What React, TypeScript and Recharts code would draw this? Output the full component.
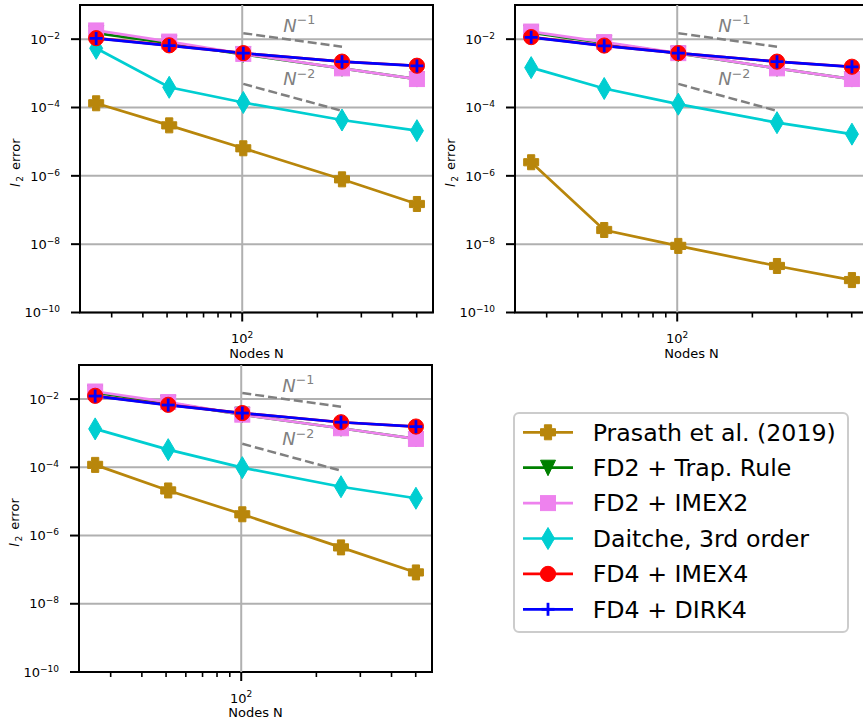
import React from 'react';
import {
  LineChart,
  Line,
  XAxis,
  YAxis,
  CartesianGrid,
  ReferenceLine,
  ReferenceArea,
  ReferenceDot,
} from 'recharts';

const FONT = "'DejaVu Sans', 'Liberation Sans', sans-serif";

// grid sizes used in every run
const nodes = [26, 51, 101, 251, 501];

// slope guides (N^-1 and N^-2)
const refNodes = [101, 251];
const slopeOne = [1.5e-2, 6.0e-3];
const slopeTwo = [4.9e-4, 8.0e-5];

// top left panel
const prasathA = [1.33e-4, 3.0e-5, 6.4e-6, 7.9e-7, 1.5e-7];
const trapA = [1.5e-2, 7.6e-3, 3.6e-3, 1.4e-3, 6.8e-4];
const imex2A = [1.8e-2, 8.5e-3, 3.7e-3, 1.4e-3, 6.8e-4];
const daitcheA = [5.4e-3, 3.9e-4, 1.4e-4, 4.3e-5, 2.1e-5];
const imex4A = [1.07e-2, 6.6e-3, 3.9e-3, 2.2e-3, 1.67e-3];
const dirk4A = [1.05e-2, 6.5e-3, 3.9e-3, 2.2e-3, 1.65e-3];

// top right panel
const prasathB = [2.5e-6, 2.6e-8, 8.9e-9, 2.3e-9, 8.9e-10];
const trapB = [1.55e-2, 7.8e-3, 3.8e-3, 1.4e-3, 6.8e-4];
const imex2B = [1.67e-2, 8.2e-3, 3.9e-3, 1.4e-3, 6.8e-4];
const daitcheB = [1.47e-3, 3.6e-4, 1.25e-4, 3.6e-5, 1.66e-5];
const imex4B = [1.15e-2, 6.5e-3, 3.9e-3, 2.2e-3, 1.56e-3];
const dirk4B = [1.13e-2, 6.4e-3, 3.9e-3, 2.2e-3, 1.55e-3];

// bottom left panel
const prasathC = [1.18e-4, 2.1e-5, 4.2e-6, 4.5e-7, 8.3e-8];
const trapC = [1.55e-2, 7.8e-3, 3.5e-3, 1.4e-3, 6.8e-4];
const imex2C = [1.67e-2, 8.2e-3, 3.5e-3, 1.4e-3, 6.8e-4];
const daitcheC = [1.34e-3, 3.3e-4, 9.8e-5, 2.7e-5, 1.24e-5];
const imex4C = [1.25e-2, 6.8e-3, 3.9e-3, 2.1e-3, 1.57e-3];
const dirk4C = [1.23e-2, 6.7e-3, 3.9e-3, 2.1e-3, 1.56e-3];

const xTicks = [30, 40, 50, 60, 70, 80, 90, 100, 200, 300, 400, 500];
const yTicks = [1e-10, 1e-8, 1e-6, 1e-4, 1e-2];
const xDomain = [22.4, 581];
const yDomain = [1e-10, 1e-1];

const series = [
  { key: 'prasath', name: 'Prasath et al. (2019)', color: '#b8860b', marker: 'plusFilled' },
  { key: 'trap', name: 'FD2 + Trap. Rule', color: '#008000', marker: 'triangleDown' },
  { key: 'imex2', name: 'FD2 + IMEX2', color: '#ee82ee', marker: 'square' },
  { key: 'daitche', name: 'Daitche, 3rd order', color: '#00ced1', marker: 'diamond' },
  { key: 'imex4', name: 'FD4 + IMEX4', color: '#ff0000', marker: 'circle' },
  { key: 'dirk4', name: 'FD4 + DIRK4', color: '#0000ff', marker: 'plus' },
];

function buildRows(cols: Record<string, number[]>) {
  return nodes.map((n, i) => {
    const row: Record<string, number | null> = { n };
    Object.keys(cols).forEach((k) => (row[k] = cols[k][i]));
    const j = refNodes.indexOf(n);
    row.ref1 = j >= 0 ? slopeOne[j] : null;
    row.ref2 = j >= 0 ? slopeTwo[j] : null;
    return row;
  });
}

const rowsA = buildRows({ prasath: prasathA, trap: trapA, imex2: imex2A, daitche: daitcheA, imex4: imex4A, dirk4: dirk4A });
const rowsB = buildRows({ prasath: prasathB, trap: trapB, imex2: imex2B, daitche: daitcheB, imex4: imex4B, dirk4: dirk4B });
const rowsC = buildRows({ prasath: prasathC, trap: trapC, imex2: imex2C, daitche: daitcheC, imex4: imex4C, dirk4: dirk4C });

function Marker({ kind, cx, cy, color }: { kind: string; cx: number; cy: number; color: string }) {
  switch (kind) {
    case 'plusFilled': {
      const a = 7.5;
      const b = 3.6;
      const pts = [
        [-b, -a], [b, -a], [b, -b], [a, -b], [a, b], [b, b],
        [b, a], [-b, a], [-b, b], [-a, b], [-a, -b], [-b, -b],
      ];
      return <polygon points={pts.map(([x, y]) => `${cx + x},${cy + y}`).join(' ')} fill={color} stroke={color} strokeWidth={1} />;
    }
    case 'triangleDown':
      return <polygon points={`${cx - 7.5},${cy - 7.5} ${cx + 7.5},${cy - 7.5} ${cx},${cy + 8}`} fill={color} stroke={color} strokeWidth={1} />;
    case 'square':
      return <rect x={cx - 7.5} y={cy - 7.5} width={15} height={15} fill={color} stroke={color} strokeWidth={1} />;
    case 'diamond':
      return <polygon points={`${cx},${cy - 11} ${cx + 6.5},${cy} ${cx},${cy + 11} ${cx - 6.5},${cy}`} fill={color} stroke={color} strokeWidth={1} />;
    case 'circle':
      return <circle cx={cx} cy={cy} r={7.6} fill={color} stroke={color} strokeWidth={1} />;
    case 'plus':
      return (
        <g stroke={color} strokeWidth={2.8}>
          <line x1={cx - 6.5} x2={cx + 6.5} y1={cy} y2={cy} />
          <line x1={cx} x2={cx} y1={cy - 6.5} y2={cy + 6.5} />
        </g>
      );
    default:
      return null;
  }
}

const YTick = (p: any) => {
  const { x, y, payload } = p;
  const e = Math.round(Math.log10(payload.value));
  return (
    <g>
      <line x1={x - 9} x2={x} y1={y} y2={y} stroke="#000" strokeWidth={2} />
      <text x={x - 20} y={y + 4.7} textAnchor="end" fontSize={13} fill="#000" fontFamily={FONT}>
        10<tspan fontSize={9} dy={-5}>{`\u2212${-e}`}</tspan>
      </text>
    </g>
  );
};

const XTick = (p: any) => {
  const { x, y, payload } = p;
  const major = payload.value === 100;
  return (
    <g>
      <line x1={x} x2={x} y1={y} y2={y + (major ? 9 : 5)} stroke="#000" strokeWidth={major ? 2 : 1.6} />
      {major && (
        <text x={x} y={y + 30.5} textAnchor="middle" fontSize={13} fill="#000" fontFamily={FONT}>
          10<tspan fontSize={9} dy={-5.5}>2</tspan>
        </text>
      )}
    </g>
  );
};

const slopeLabel = (exp: string) => (p: any) => (
  <text x={p.cx} y={p.cy} fill="#808080" fontSize={18} fontFamily={FONT}>
    <tspan fontStyle="italic">N</tspan>
    <tspan fontSize={12.6} dy={-7.5}>{`\u2212${exp}`}</tspan>
  </text>
);

function Panel({ rows, plotLeft, plotTop, plotRight, plotBottom }: any) {
  const width = plotRight - plotLeft + 87;
  const height = plotBottom - plotTop + 55;
  return (
    <div style={{ position: 'absolute', left: plotLeft - 80, top: plotTop - 5 }}>
      <LineChart width={width} height={height} data={rows} margin={{ top: 5, right: 7, left: 0, bottom: 0 }} style={{ fontFamily: FONT }}>
        <CartesianGrid vertical={false} stroke="#b0b0b0" strokeWidth={2} />
        <ReferenceLine x={100} stroke="#b0b0b0" strokeWidth={2} />
        <XAxis
          dataKey="n"
          type="number"
          scale="log"
          domain={xDomain}
          allowDataOverflow
          ticks={xTicks}
          interval={0}
          tick={XTick}
          tickSize={0}
          tickMargin={0}
          tickLine={false}
          axisLine={false}
          height={50}
          label={{
            content: (lp: any) => {
              const vb = lp.viewBox;
              return (
                <text x={vb.x + vb.width / 2} y={vb.y + 45} textAnchor="middle" fontSize={13} fill="#000" fontFamily={FONT}>
                  Nodes N
                </text>
              );
            },
          }}
        />
        <YAxis
          type="number"
          scale="log"
          domain={yDomain}
          allowDataOverflow
          ticks={yTicks}
          interval={0}
          tick={YTick}
          tickSize={0}
          tickMargin={0}
          tickLine={false}
          axisLine={false}
          width={80}
          label={{
            content: (lp: any) => {
              const vb = lp.viewBox;
              const lx = vb.x + 20;
              const ly = vb.y + vb.height / 2 + 4;
              return (
                <text x={lx} y={ly} transform={`rotate(-90, ${lx}, ${ly})`} textAnchor="middle" fontSize={13} fill="#000" fontFamily={FONT}>
                  <tspan fontStyle="italic">l</tspan>
                  <tspan fontSize={9} dx={1.5} dy={3}>2</tspan>
                  <tspan dx={2} dy={-3}> error</tspan>
                </text>
              );
            },
          }}
        />
        <Line dataKey="ref1" stroke="#808080" strokeWidth={2.5} strokeDasharray="9 4" dot={false} isAnimationActive={false} />
        <Line dataKey="ref2" stroke="#808080" strokeWidth={2.5} strokeDasharray="9 4" dot={false} isAnimationActive={false} />
        {series.map((s) => (
          <Line
            key={s.key}
            dataKey={s.key}
            stroke={s.color}
            strokeWidth={2.7}
            isAnimationActive={false}
            dot={(dp: any) =>
              dp.cx == null || dp.cy == null || dp.value == null ? (
                <g key={`${s.key}-${dp.index}`} />
              ) : (
                <Marker key={`${s.key}-${dp.index}`} kind={s.marker} cx={dp.cx} cy={dp.cy} color={s.color} />
              )
            }
            activeDot={false}
          />
        ))}
        <ReferenceDot x={146} y={1.67e-2} r={0} shape={slopeLabel('1')} />
        <ReferenceDot x={146} y={4.5e-4} r={0} shape={slopeLabel('2')} />
        <ReferenceArea x1={xDomain[0]} x2={xDomain[1]} y1={yDomain[0]} y2={yDomain[1]} fill="none" fillOpacity={0} stroke="#000" strokeWidth={2} />
      </LineChart>
    </div>
  );
}

function LegendBox() {
  const left = 514;
  const top = 413;
  const rowY0 = 432.3;
  const step = 35.4;
  return (
    <svg width={863} height={726} style={{ position: 'absolute', left: 0, top: 0, pointerEvents: 'none' }}>
      <rect x={left} y={top} width={334} height={219} rx={5} fill="#fff" fillOpacity={0.8} stroke="#cccccc" strokeWidth={2} />
      {series.map((s, i) => {
        const y = rowY0 + i * step;
        return (
          <g key={s.key}>
            <line x1={523} x2={573} y1={y} y2={y} stroke={s.color} strokeWidth={2.7} />
            <Marker kind={s.marker} cx={548} cy={y} color={s.color} />
            <text x={592.7} y={y + 8.3} fontSize={23.7} fill="#000" fontFamily={FONT}>
              {s.name}
            </text>
          </g>
        );
      })}
    </svg>
  );
}

export default function App() {
  return (
    <div style={{ position: 'absolute', left: 0, top: 0, width: 863, height: 726, overflow: 'hidden', background: '#fff' }}>
      <Panel rows={rowsA} plotLeft={80} plotTop={5} plotRight={433} plotBottom={312.5} />
      <Panel rows={rowsB} plotLeft={515} plotTop={5} plotRight={868} plotBottom={312.5} />
      <Panel rows={rowsC} plotLeft={78.5} plotTop={365} plotRight={431.5} plotBottom={672} />
      <LegendBox />
    </div>
  );
}
